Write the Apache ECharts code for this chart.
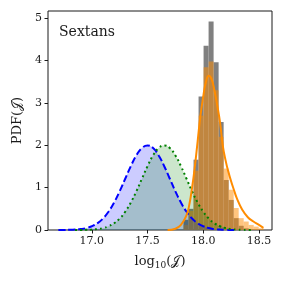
<!DOCTYPE html>
<html><head><meta charset="utf-8">
<script src="https://cdn.jsdelivr.net/npm/echarts@6/dist/echarts.min.js"></script>
<style>html,body{margin:0;padding:0;background:#fff}#c{width:284px;height:284px}</style>
</head><body><div id="c"></div>
<script>
// ---- data ----
const xTicks = [17.0, 17.5, 18.0, 18.5];
const yTicks = [0, 1, 2, 3, 4, 5];

const blueX = [16.70,16.75,16.80,16.85,16.90,16.95,17.00,17.05,17.10,17.15,17.20,17.25,17.30,17.35,17.40,17.45,17.50,
               17.55,17.60,17.65,17.70,17.75,17.80,17.85,17.90,17.95,18.00,18.05,18.10,18.15,18.20,18.25,18.30];
const blueY = [0.001,0.002,0.004,0.010,0.022,0.045,0.088,0.159,0.270,0.432,0.648,0.913,1.210,1.506,1.761,1.934,1.995,
               1.934,1.761,1.506,1.210,0.913,0.648,0.432,0.270,0.159,0.088,0.045,0.022,0.010,0.004,0.002,0.001];

const greenX = [16.85,16.90,16.95,17.00,17.05,17.10,17.15,17.20,17.25,17.30,17.35,17.40,17.45,17.50,17.55,17.60,17.65,
                17.70,17.75,17.80,17.85,17.90,17.95,18.00,18.05,18.10,18.15,18.20,18.25,18.30,18.35,18.40,18.45];
const greenY = [0.001,0.002,0.004,0.010,0.022,0.045,0.088,0.159,0.270,0.432,0.648,0.913,1.210,1.506,1.761,1.934,1.995,
                1.934,1.761,1.506,1.210,0.913,0.648,0.432,0.270,0.159,0.088,0.045,0.022,0.010,0.004,0.002,0.001];

const histEdges = [17.823,17.868,17.913,17.958,18.003,18.048,18.093,18.138,18.183,18.228,18.273,18.318,18.363,18.408,18.453,18.498,18.543];
const grayHist   = [0.24,0.50,1.66,3.15,4.35,4.92,3.96,2.55,1.18,0.71,0.28,0.10,0.04,0,0,0];
const orangeHist = [0.12,0.45,1.40,2.70,3.84,3.98,3.30,2.20,1.45,0.95,0.52,0.28,0.20,0.12,0.08,0.04];

const kdeX = [17.68,17.75,17.80,17.85,17.875,17.90,17.925,17.95,17.975,18.00,18.025,18.05,18.075,18.10,18.125,18.15,18.175,
              18.20,18.225,18.25,18.275,18.30,18.35,18.40,18.45,18.50,18.54];
const kdeY = [0.00,0.03,0.12,0.35,0.60,1.00,1.50,2.10,2.70,3.15,3.50,3.64,3.56,3.30,2.95,2.55,2.00,
              1.65,1.38,1.15,0.95,0.76,0.48,0.30,0.20,0.12,0.05];

const labelText = 'Sextans';
const xName = 'log';
const xSub = '10';
const calJ = '(\u{1D4A5})';
const yName = 'PDF(\u{1D4A5})';

// ---- chart ----
const serif = '"DejaVu Serif", "Liberation Serif", serif';
const ink = '#1a1a1a';
const zip = (xs, ys) => xs.map((x, i) => [x, ys[i]]);
const histData = vals => vals.map((v, i) => [histEdges[i], histEdges[i + 1], v]);
const histRender = (fill, opacity) => (params, api) => {
  const p0 = api.coord([api.value(0), api.value(2)]);
  const p1 = api.coord([api.value(1), 0]);
  return { type: 'rect', shape: { x: p0[0], y: p0[1], width: p1[0] - p0[0], height: p1[1] - p0[1] },
           style: { fill: fill, opacity: opacity } };
};

const chart = echarts.init(document.getElementById('c'), null, { renderer: 'canvas' });
chart.setOption({
  animation: false,
  grid: { left: 48, right: 12, top: 11, bottom: 54, show: true, borderColor: ink, borderWidth: 1, backgroundColor: 'transparent' },
  xAxis: {
    type: 'value', min: 16.607, max: 18.617,
    splitLine: { show: false },
    axisLine: { show: false },
    axisTick: { show: true, customValues: xTicks, length: 3.5, lineStyle: { color: ink, width: 1 } },
    axisLabel: { customValues: xTicks, formatter: v => v.toFixed(1), fontFamily: serif, fontSize: 11, color: ink, margin: 6 },
    name: '{n|' + xName + '}{s|' + xSub + '}{n|' + calJ + '}',
    nameLocation: 'middle', nameGap: 24,
    nameTextStyle: { rich: {
      n: { fontFamily: serif, fontSize: 13, color: ink, lineHeight: 16 },
      s: { fontFamily: serif, fontSize: 9, color: ink, lineHeight: 9, verticalAlign: 'bottom' }
    } }
  },
  yAxis: {
    type: 'value', min: 0, max: 5.17,
    splitLine: { show: false },
    axisLine: { show: false },
    axisTick: { show: true, customValues: yTicks, length: 3.5, lineStyle: { color: ink, width: 1 } },
    axisLabel: { customValues: yTicks, fontFamily: serif, fontSize: 11, color: ink, margin: 6 },
    name: yName, nameLocation: 'middle', nameGap: 23, nameRotate: 90,
    nameTextStyle: { fontFamily: serif, fontSize: 13, color: ink }
  },
  graphic: [{ type: 'text', left: 59, top: 25, style: { text: labelText, font: '14px ' + serif, fill: ink } }],
  series: [
    { type: 'custom', renderItem: histRender('#808080', 1), data: histData(grayHist), encode: { x: [0, 1], y: 2 }, clip: true },
    { type: 'line', data: zip(blueX, blueY), smooth: true, symbol: 'none',
      lineStyle: { color: '#0000ff', width: 2, type: [7, 3] }, areaStyle: { color: '#0000ff', opacity: 0.2 } },
    { type: 'line', data: zip(greenX, greenY), smooth: true, symbol: 'none',
      lineStyle: { color: '#008000', width: 2, type: [2, 3], cap: 'butt' }, areaStyle: { color: '#008000', opacity: 0.2 } },
    { type: 'custom', renderItem: histRender('#ff8c00', 0.5), data: histData(orangeHist), encode: { x: [0, 1], y: 2 }, clip: true },
    { type: 'line', data: zip(kdeX, kdeY), smooth: true, symbol: 'none',
      lineStyle: { color: '#ff8c00', width: 2 } }
  ]
});
</script></body></html>
